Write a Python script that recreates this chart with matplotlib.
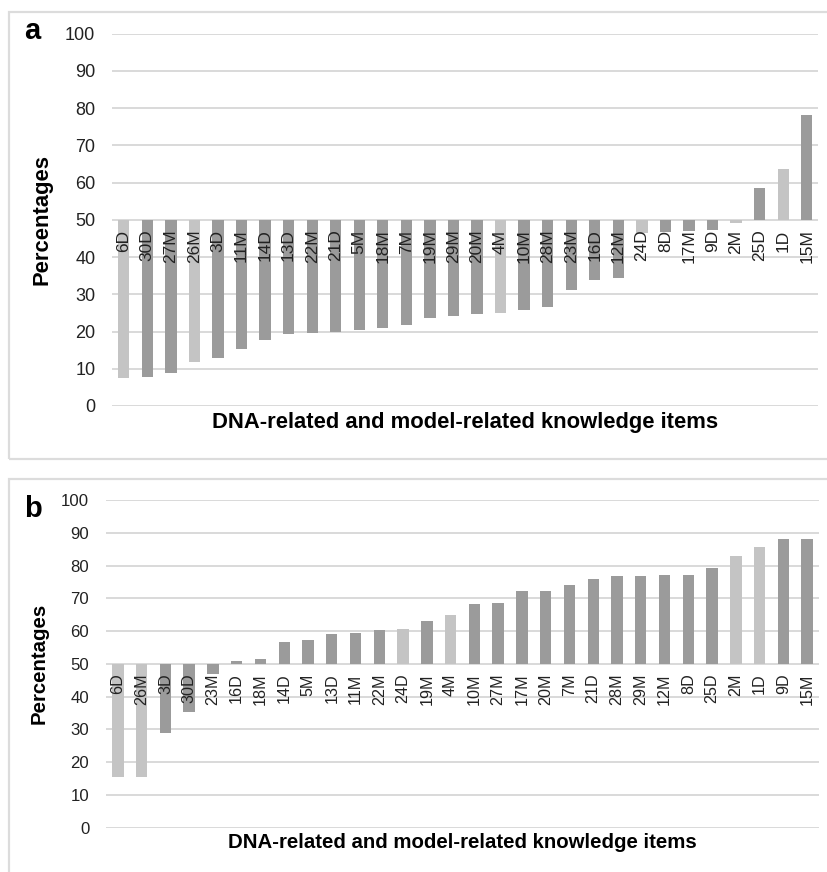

import matplotlib
matplotlib.use("Agg")
import matplotlib.pyplot as plt
import numpy as np
from matplotlib.patches import Rectangle

plt.rcParams["font.family"] = ["Liberation Sans", "DejaVu Sans"]

# panel a
items_a = ["6D", "30D", "27M", "26M", "3D", "11M", "14D", "13D", "22M", "21D",
           "5M", "18M", "7M", "19M", "29M", "20M", "4M", "10M", "28M", "23M",
           "16D", "12M", "24D", "8D", "17M", "9D", "2M", "25D", "1D", "15M"]
pct_a = [7.6, 7.9, 8.8, 11.7, 13.0, 15.3, 17.6, 19.4, 19.7, 20.0,
         20.4, 20.9, 21.8, 23.7, 24.1, 24.8, 24.9, 25.9, 26.7, 31.2,
         33.8, 34.4, 46.6, 46.8, 47.0, 47.2, 49.1, 58.5, 63.7, 78.1]

# panel b
items_b = ["6D", "26M", "3D", "30D", "23M", "16D", "18M", "14D", "5M", "13D",
           "11M", "22M", "24D", "19M", "4M", "10M", "27M", "17M", "20M", "7M",
           "21D", "28M", "29M", "12M", "8D", "25D", "2M", "1D", "9D", "15M"]
pct_b = [15.5, 15.5, 28.8, 35.4, 46.8, 51.0, 51.4, 56.8, 57.3, 59.2,
         59.5, 60.2, 60.5, 63.1, 65.0, 68.3, 68.6, 72.3, 72.3, 74.0,
         75.9, 76.7, 76.7, 77.2, 77.2, 79.4, 82.9, 85.7, 88.1, 88.1]

light_items = ["6D", "26M", "4M", "24D", "1D", "2M"]
yticks = list(range(0, 101, 10))

DARK = "#9b9b9b"
LIGHT = "#c4c4c4"
GRID = "#d9d9d9"
W, H = 828, 872


def draw_panel(fig, rect, items, pct, letter, letter_xy, xlabel_y, fs=1.0):
    ax = fig.add_axes(rect)
    x = np.arange(len(items))
    vals = np.array(pct)
    colors = [LIGHT if it in light_items else DARK for it in items]
    # gridlines behind the bars, tick labels (axis zorder 2.5) on top
    for t in yticks:
        ax.axhline(t, color=GRID, linewidth=1.4, zorder=0)
    ax.bar(x, vals - 50, bottom=50, width=0.48, color=colors, zorder=1)
    ax.set_xlim(-0.5, len(items) - 0.5)
    ax.set_ylim(0, 100)
    ax.set_yticks(yticks)
    for s in ["top", "right", "left"]:
        ax.spines[s].set_visible(False)
    ax.spines["bottom"].set_position(("data", 50))
    ax.spines["bottom"].set_visible(False)
    ax.set_xticks(x)
    ax.set_xticklabels(items, rotation=90, fontsize=12.5 * fs, color="#222222")
    ax.tick_params(axis="x", length=0, pad=7)
    ax.tick_params(axis="y", length=0, pad=12, labelsize=13 * fs, labelcolor="#222222")
    ax.set_ylabel("Percentages", fontsize=15.8 * fs, fontweight="bold", labelpad=9)
    fig.text(0.5 * (rect[0] + rect[0] + rect[2]), 1 - xlabel_y / H,
             "DNA-related and model-related knowledge items",
             ha="center", va="center", fontsize=15.8 * fs, fontweight="bold")
    fig.text(letter_xy[0] / W, 1 - letter_xy[1] / H, letter,
             ha="left", va="center", fontsize=21, fontweight="bold")
    return ax


fig = plt.figure(figsize=(W / 100, H / 100), dpi=100)

# panel frames
fig.patches.append(Rectangle((9 / W, 1 - 459 / H), (W + 5) / W, 447 / H,
                             transform=fig.transFigure, fill=False,
                             edgecolor="#dcdcdc", linewidth=1.6))
fig.patches.append(Rectangle((9 / W, 1 - 900 / H), (W + 5) / W, 421 / H,
                             transform=fig.transFigure, fill=False,
                             edgecolor="#dcdcdc", linewidth=1.6))

draw_panel(fig, [112 / W, 1 - 406 / H, 706.5 / W, 372.3 / H],
           items_a, pct_a, "a", (24, 31), 422)
draw_panel(fig, [106 / W, 1 - 827.7 / H, 713 / W, 327.7 / H],
           items_b, pct_b, "b", (24, 509), 842, fs=0.93)

fig.savefig("out.png", dpi=100)
